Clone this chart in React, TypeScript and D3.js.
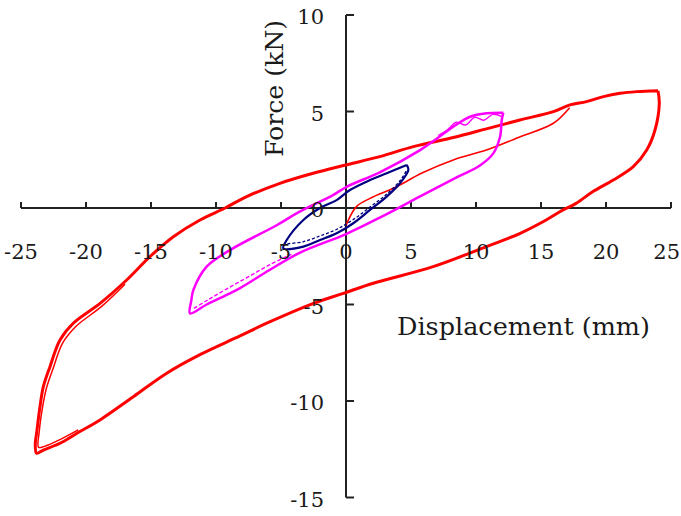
import React from "react";
import * as d3 from "d3";

// ±25 mm cycle (red): clockwise from the positive peak
const redX = [24.0, 24.1, 23.77, 23.13, 22.1, 20.56, 19.0, 17.7, 16.7, 15.4, 13.4, 10.8, 6.7, 2.1, -0.2, -2.5, -6.1, -8.15, -11.23, -13.79, -16.36, -18.92, -20.7, -22.0, -23.28, -23.8, -23.9, -23.8, -23.54, -23.28, -22.77, -22.0, -20.98, -18.92, -16.87, -15.08, -13.28, -11.23, -9.3, -7.64, -5.08, -2.52, -0.2, 2.6, 5.18, 8.25, 10.8, 13.38, 15.95, 17.23, 18.5, 19.8, 21.08, 22.36, 24.0];
const redY = [6.08, 5.42, 4.04, 3.0, 2.14, 1.45, 0.85, 0.24, -0.1, -0.62, -1.31, -2.0, -3.04, -3.9, -4.42, -4.94, -5.97, -6.63, -7.6, -8.56, -9.78, -10.98, -11.67, -12.19, -12.54, -12.71, -12.2, -11.67, -10.3, -9.26, -8.22, -6.84, -5.97, -4.94, -3.73, -2.52, -1.49, -0.62, 0.0, 0.59, 1.28, 1.8, 2.2, 2.66, 3.18, 3.65, 4.1, 4.56, 4.99, 5.34, 5.51, 5.77, 5.94, 6.03, 6.08];

// second red cycle traces, visible near the negative tip
const red2X = [-20.6, -22.0, -23.2, -23.65, -23.6, -23.35, -23.05, -22.55, -21.8, -20.8, -18.8, -17.0];
const red2Y = [-11.5, -12.0, -12.35, -12.4, -11.6, -10.35, -9.35, -8.35, -7.0, -6.15, -5.1, -3.95];

// first loading branch of the red cycle (thin)
const redVirginX = [0.0, 0.8, 1.85, 3.9, 5.8, 8.25, 10.8, 13.4, 15.95, 17.2];
const redVirginY = [-0.9, 0.07, 0.5, 1.1, 1.8, 2.49, 3.0, 3.69, 4.39, 5.2];

// ±12 mm cycle (magenta)
const magX = [12.1, 11.98, 11.85, 11.33, 10.3, 8.25, 5.7, 2.6, 0.0, -3.5, -5.85, -8.15, -9.18, -10.72, -12.0, -11.9, -11.74, -10.72, -8.92, -5.3, -3.6, -1.0, 0.05, 2.6, 5.7, 7.0, 8.25, 9.54, 10.82, 12.1];
const magY = [4.94, 4.56, 3.69, 2.83, 2.2, 1.5, 0.6, -0.5, -1.35, -2.3, -3.2, -4.15, -4.5, -5.0, -5.46, -4.8, -4.25, -3.04, -2.18, -0.88, -0.2, 0.67, 1.1, 1.85, 3.0, 3.6, 4.21, 4.73, 4.91, 4.94];

// second magenta cycle traces (near the tips)
const mag2aX = [-11.7, -10.6, -9.2, -7.6, -5.9, -4.2];
const mag2aY = [-5.2, -4.75, -4.2, -3.6, -2.95, -2.4];
const mag2bX = [7.1, 7.8, 8.5, 9.2, 9.9, 10.6, 11.3, 11.95];
const mag2bY = [3.75, 4.05, 4.45, 4.3, 4.7, 4.55, 4.85, 4.75];

// ±5 mm cycle (navy)
const navyX = [4.67, 3.13, 1.85, 0.3, -0.72, -2.0, -3.28, -4.56, -4.82, -3.28, -2.0, -0.72, 0.56, 1.85, 3.13, 4.15, 4.8, 4.67];
const navyY = [2.23, 1.8, 1.45, 0.93, 0.41, 0.0, -0.62, -1.66, -2.09, -2.0, -1.66, -1.31, -0.79, -0.1, 0.59, 1.28, 1.97, 2.23];
const navy2X = [-4.5, -3.3, -2.0, -0.7, 0.56, 1.85, 3.1, 4.2, 4.7];
const navy2Y = [-1.85, -1.75, -1.45, -1.1, -0.6, 0.05, 0.7, 1.45, 2.0];

const xTicks = [-25, -20, -15, -10, -5, 0, 5, 10, 15, 20, 25];
const xTickLabels = ["-25", "-20", "-15", "-10", "-5", "0", "5", "10", "15", "20", "25"];
const yTicks = [10, 5, 0, -5, -10, -15];
const yTickLabels = ["10", "5", "0", "-5", "-10", "-15"];

const xTitle = "Displacement (mm)";
const yTitle = "Force (kN)";

export default function App() {
  const W = 681;
  const H = 516;
  const x = d3.scaleLinear().domain([-25, 25]).range([21, 671]);
  const y = d3.scaleLinear().domain([-15, 10]).range([497.5, 15]);
  const x0 = x(0);
  const y0 = y(0);

  const mk = (xs: number[], ys: number[]) =>
    d3
      .line<number>()
      .x((_, i) => x(xs[i]))
      .y((_, i) => y(ys[i]))
      .curve(d3.curveCatmullRom.alpha(0.5))(xs.map((_, i) => i)) || "";

  const font = "'DejaVu Serif', serif";
  const axisColor = "#222";

  return (
    <svg
      width={W}
      height={H}
      viewBox={`0 0 ${W} ${H}`}
      style={{ position: "absolute", left: 0, top: 0, display: "block", background: "#fff" }}
    >
      <rect x={0} y={0} width={W} height={H} fill="#fff" />
      {/* axes */}
      <line x1={x(-25)} x2={x(25)} y1={y0} y2={y0} stroke={axisColor} strokeWidth={2} />
      <line x1={x0} x2={x0} y1={y(10)} y2={y(-15)} stroke={axisColor} strokeWidth={2} />
      {xTicks.map((t) => (
        <line key={"xt" + t} x1={x(t)} x2={x(t)} y1={y0} y2={y0 - 6} stroke={axisColor} strokeWidth={2} />
      ))}
      {yTicks.map((t) => (
        <line key={"yt" + t} x1={x0} x2={x0 + 8} y1={y(t)} y2={y(t)} stroke={axisColor} strokeWidth={2} />
      ))}
      {/* curves */}
      <path d={mk(redVirginX, redVirginY)} fill="none" stroke="#ff0000" strokeWidth={1.6} />
      <path d={mk(red2X, red2Y)} fill="none" stroke="#ff0000" strokeWidth={1.5} />
      <path d={mk(redX, redY)} fill="none" stroke="#ff0000" strokeWidth={3} strokeLinejoin="round" />
      <path d={mk(mag2aX, mag2aY)} fill="none" stroke="#ff00ff" strokeWidth={1.4} strokeDasharray="4 2" />
      <path d={mk(mag2bX, mag2bY)} fill="none" stroke="#ff00ff" strokeWidth={1.4} />
      <path d={mk(magX, magY)} fill="none" stroke="#ff00ff" strokeWidth={2.5} strokeLinejoin="round" />
      <path d={mk(navy2X, navy2Y)} fill="none" stroke="#000080" strokeWidth={1.3} strokeDasharray="3 2" />
      <path d={mk(navyX, navyY)} fill="none" stroke="#000080" strokeWidth={2.2} strokeLinejoin="round" />
      {/* tick labels */}
      {xTicks.map((t, i) => {
        const last = i === xTicks.length - 1;
        return (
          <text
            key={"xl" + t}
            x={last ? 680 : x(t)}
            y={259}
            textAnchor={last ? "end" : "middle"}
            fontFamily={font}
            fontSize={21}
            fill="#1a1a1a"
          >
            {xTickLabels[i]}
          </text>
        );
      })}
      {yTicks.map((t, i) => (
        <text key={"yl" + t} x={324} y={y(t) + 9} textAnchor="end" fontFamily={font} fontSize={21} fill="#1a1a1a">
          {yTickLabels[i]}
        </text>
      ))}
      {/* titles */}
      <text x={397} y={335} fontFamily={font} fontSize={25} fill="#1a1a1a" textLength={253} lengthAdjust="spacingAndGlyphs">
        {xTitle}
      </text>
      <text
        transform={`translate(283, 88.5) rotate(-90)`}
        textAnchor="middle"
        fontFamily={font}
        fontSize={25}
        fill="#1a1a1a"
        textLength={137}
        lengthAdjust="spacingAndGlyphs"
      >
        {yTitle}
      </text>
    </svg>
  );
}
